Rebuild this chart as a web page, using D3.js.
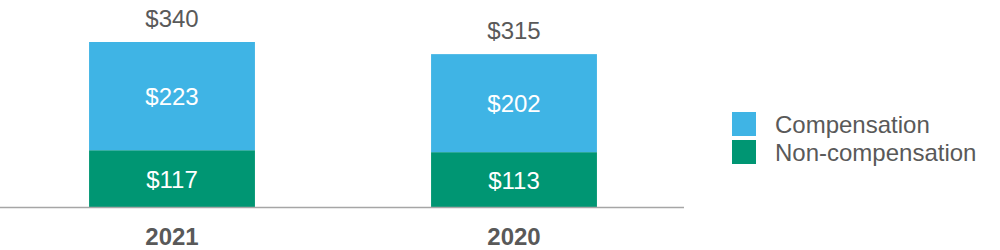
<!DOCTYPE html>
<html>
<head>
<meta charset="utf-8">
<script src="https://cdn.jsdelivr.net/npm/d3@7"></script>
<style>
  body { margin: 0; background: #fff; }
  text { font-family: "Liberation Sans", Arial, sans-serif; }
</style>
</head>
<body>
<svg id="chart"></svg>
<script>
const categories = ["2021", "2020"];
const seriesNames = ["Non-compensation", "Compensation"];
const nonComp = [117, 113];
const comp = [223, 202];
const totals = [340, 315];
const colors = ["#009673", "#3fb4e5"];

const width = 1000, height = 250;
const svg = d3.select("#chart").attr("width", width).attr("height", height);

const rows = categories.map((c, i) => ({cat: c, "Non-compensation": nonComp[i], "Compensation": comp[i], total: totals[i]}));
const stacked = d3.stack().keys(seriesNames)(rows);

const x = d3.scaleBand().domain(categories).range([1, 685]).paddingInner(0.515).paddingOuter(0.2575);
const y = d3.scaleLinear().domain([0, 340]).range([207, 42]);

// Bars
svg.selectAll("g.series")
  .data(stacked)
  .enter().append("g")
  .attr("fill", (d, i) => colors[i])
  .selectAll("rect")
  .data(d => d)
  .enter().append("rect")
  .attr("x", d => x(d.data.cat))
  .attr("y", d => y(d[1]))
  .attr("width", x.bandwidth())
  .attr("height", d => y(d[0]) - y(d[1]));

// Inner labels
stacked.forEach(s => {
  svg.selectAll(null)
    .data(s)
    .enter().append("text")
    .attr("x", d => x(d.data.cat) + x.bandwidth() / 2)
    .attr("y", d => (y(d[0]) + y(d[1])) / 2 + 9)
    .attr("text-anchor", "middle")
    .attr("fill", "#fff")
    .attr("font-size", 24)
    .text(d => "$" + (d[1] - d[0]));
});

// Totals
svg.selectAll("text.total")
  .data(rows)
  .enter().append("text")
  .attr("class", "total")
  .attr("x", d => x(d.cat) + x.bandwidth() / 2)
  .attr("y", d => y(d.total) - 15)
  .attr("text-anchor", "middle")
  .attr("fill", "#595959")
  .attr("font-size", 24)
  .text(d => "$" + d.total);

// Axis
const xAxis = svg.append("g")
  .attr("transform", `translate(0,${y(0)})`)
  .call(d3.axisBottom(x).tickSize(0).tickPadding(21));
xAxis.select(".domain").attr("d", "M0,0.5H684").attr("stroke", "#a6a6a6").attr("stroke-width", 1.5);
xAxis.selectAll("text")
  .attr("font-family", "Liberation Sans, Arial, sans-serif")
  .attr("font-size", 24)
  .attr("font-weight", "bold")
  .attr("fill", "#595959");

// Legend
const legend = svg.append("g").attr("transform", "translate(732,112)");
const legendItems = ["Compensation", "Non-compensation"];
const legendColors = [colors[1], colors[0]];
legendItems.forEach((name, i) => {
  const g = legend.append("g").attr("transform", `translate(0,${i * 28})`);
  g.append("rect").attr("width", 24).attr("height", 24).attr("fill", legendColors[i]);
  g.append("text").attr("x", 43).attr("y", 21).attr("fill", "#595959").attr("font-size", 24).text(name);
});
</script>
</body>
</html>
